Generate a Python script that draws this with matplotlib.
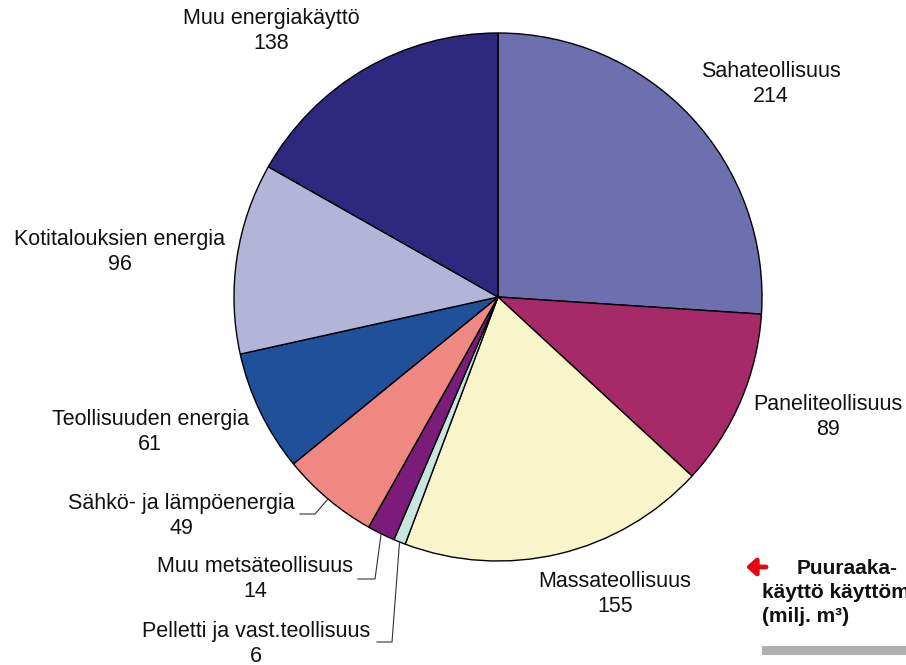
import numpy as np
import matplotlib.pyplot as plt

plt.rcParams['font.family'] = ['Liberation Sans', 'DejaVu Sans']

# Puun käyttö käyttömuodoittain (milj. m3)
labels = ['Sahateollisuus', 'Paneliteollisuus', 'Massateollisuus',
          'Pelletti ja vast.teollisuus', 'Muu metsäteollisuus',
          'Sähkö- ja lämpöenergia', 'Teollisuuden energia',
          'Kotitalouksien energia', 'Muu energiakäyttö']
values = [214, 89, 155, 6, 14, 49, 61, 96, 138]
colors = ['#6D6FAE', '#A62A67', '#F8F5CA', '#C8E6E0', '#7B1C7A',
          '#EE8880', '#21509A', '#B3B5D8', '#30287F']

W, H = 906, 665
fig = plt.figure(figsize=(W / 100, H / 100), dpi=100)
ax = fig.add_axes([0, 0, 1, 1])

cx, cy, r = 498, H - 297, 264
wedges, _ = ax.pie(values, colors=colors, startangle=90, counterclock=False,
                   center=(cx, cy), radius=r, frame=True,
                   wedgeprops=dict(edgecolor='black', linewidth=1.0))
ax.set_xlim(0, W)
ax.set_ylim(0, H)
ax.set_aspect('equal')
ax.axis('off')

# label block centres (pixel coords from top-left)
label_pos = [(771, 84), (828, 417), (615, 594), (256, 644), (255, 579),
             (181, 516), (150, 432), (120, 252), (271, 31)]
fs = 15.5
for lab, v, (lx, ly) in zip(labels, values, label_pos):
    ax.text(lx, H - ly, f'{lab}\n{v}', ha='center', va='center',
            fontsize=fs, linespacing=1.25, color='#111111')

# leader lines for the small slices: (index, elbow start x, elbow end x, y)
leaders = [(5, 300, 315, 514), (4, 358, 375, 579), (3, 377, 392, 642)]
for i, x0, x1, y in leaders:
    w = wedges[i]
    ang = np.deg2rad((w.theta1 + w.theta2) / 2)
    px, py = cx + r * np.cos(ang), cy + r * np.sin(ang)
    ax.plot([x0, x1, px], [H - y, H - y, py], color='#333333', lw=0.8)

# note in the lower right corner
ax.annotate('', xy=(746, H - 567), xytext=(766, H - 567),
            arrowprops=dict(arrowstyle='-|>,head_width=0.5,head_length=0.55',
                            lw=3.5, color='#E30613', shrinkA=0, shrinkB=0))
note_kw = dict(fontsize=15, fontweight='bold', ha='left', va='center',
               color='#111111')
ax.text(797, H - 569, 'Puuraaka-', **note_kw)
ax.text(762, H - 593, 'käyttö käyttömuodoittain', **note_kw)
ax.text(762, H - 617, '(milj. m³)', **note_kw)
ax.add_patch(plt.Rectangle((762, H - 655), 150, 9, color='#AEAFB1', lw=0))

fig.savefig('out.png', dpi=100)
